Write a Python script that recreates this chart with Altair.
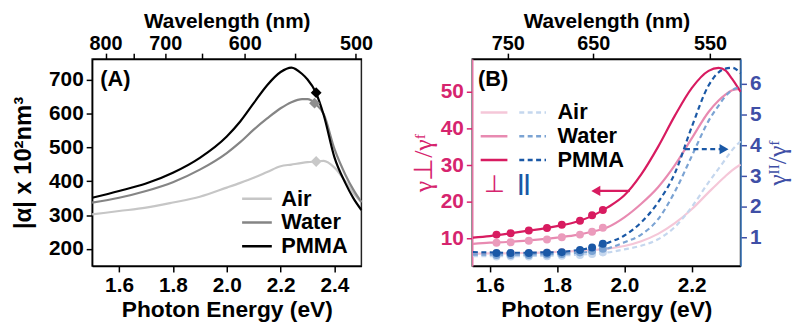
import altair as alt
import pandas as pd

FONT = "Liberation Sans"
HC = 1239.84  # eV*nm, photon energy <-> wavelength

media = ["Air", "Water", "PMMA"]
media_perp = ["Air ⊥", "Water ⊥", "PMMA ⊥"]

# ---------------- Panel A: |alpha| vs photon energy ----------------
energy_a = [1.50, 1.60, 1.70, 1.80, 1.90, 2.00, 2.05, 2.10, 2.15, 2.20, 2.24,
            2.28, 2.30, 2.33, 2.36, 2.40, 2.44, 2.47, 2.50]
alpha_air = [302, 312, 322, 337, 354, 381, 395, 410, 427, 444, 449,
             454, 456, 458, 460, 440, 400, 365, 338]
alpha_water = [337, 351, 371, 397, 434, 483, 515, 552, 585, 615, 633,
               642, 642, 628, 598, 495, 420, 375, 338]
alpha_pmma = [351, 371, 393, 425, 469, 532, 576, 630, 683, 722, 735,
              716, 700, 663, 595, 470, 395, 350, 315]
peak_energy = [2.332, 2.326, 2.332]
peak_alpha = [458, 630, 661]
wl_ticks_a = [800, 750, 700, 650, 600, 550, 500]
wl_labels_a = [800, 700, 600, 500]
energy_ticks_a = [1.6, 1.8, 2.0, 2.2, 2.4]
alpha_ticks = [200, 300, 400, 500, 600, 700]

# ---------------- Panel B: gamma ratios vs photon energy ----------------
energy_b = [1.55, 1.60, 1.65, 1.70, 1.75, 1.80, 1.85, 1.90, 1.95, 2.00,
            2.05, 2.10, 2.15, 2.20, 2.25, 2.28, 2.30, 2.32, 2.345]
perp_air = [5.9, 6.0, 6.0, 6.1, 6.2, 6.4, 6.6, 6.9, 7.3, 8.0,
            9.3, 11.3, 14.2, 18.0, 22.6, 25.3, 27.0, 28.6, 30.2]
perp_water = [8.6, 8.9, 9.1, 9.4, 9.8, 10.3, 10.9, 11.8, 13.1, 15.8,
              19.5, 24.0, 30.0, 37.3, 44.5, 47.6, 49.2, 50.4, 50.8]
perp_pmma = [10.3, 10.7, 11.3, 12.0, 12.6, 13.4, 14.4, 16.0, 18.5, 21.8,
             27.5, 35.0, 43.5, 51.0, 55.7, 56.5, 55.8, 53.5, 50.0]
par_air = [0.40, 0.40, 0.40, 0.40, 0.41, 0.42, 0.44, 0.47, 0.52, 0.62,
           0.74, 0.95, 1.35, 2.00, 2.80, 3.25, 3.55, 3.85, 4.14]
par_water = [0.45, 0.45, 0.45, 0.45, 0.46, 0.47, 0.50, 0.55, 0.65, 0.85,
             1.10, 1.60, 2.50, 3.65, 4.80, 5.30, 5.60, 5.80, 5.90]
par_pmma = [0.53, 0.52, 0.51, 0.51, 0.52, 0.53, 0.58, 0.67, 0.83, 1.07,
            1.50, 2.15, 3.10, 4.60, 5.95, 6.38, 6.50, 6.53, 6.35]

dot_energy = [1.620, 1.662, 1.716, 1.770, 1.814, 1.868, 1.904, 1.936]
perp_dot_air = [6.0, 6.0, 6.1, 6.2, 6.4, 6.6, 6.8, 7.1]
perp_dot_water = [8.9, 9.0, 9.4, 9.8, 10.4, 11.1, 11.9, 13.0]
perp_dot_pmma = [11.1, 11.5, 12.2, 12.9, 13.8, 14.9, 16.4, 17.8]
par_dot_air = [0.39, 0.39, 0.39, 0.40, 0.41, 0.44, 0.47, 0.52]
par_dot_water = [0.44, 0.44, 0.44, 0.45, 0.47, 0.52, 0.57, 0.64]
par_dot_pmma = [0.50, 0.50, 0.50, 0.51, 0.53, 0.60, 0.68, 0.80]

wl_ticks_b = [750, 650, 550]
energy_ticks_b = [1.6, 1.8, 2.0, 2.2]
perp_ticks = [10, 20, 30, 40, 50]
par_ticks = [1, 2, 3, 4, 5, 6]

# annotation arrows (data coordinates)
arrow_perp_x = [2.016, 1.915]
arrow_perp_y = 23.0
arrow_par_x = [2.180, 2.296]
arrow_par_y = 3.88

# colours
GRAYS = ["#c6c6c6", "#858585", "#000000"]
PINKS = ["#f5c7d8", "#e88ab1", "#d81b60"]
PINK_DOTS = ["#f5c7d8", "#eb9bbc", "#d81b60"]
BLUES = ["#c5d7ee", "#7ba3d3", "#1a58a6"]
PINK_LABEL, PINK_AXIS = "#d6246e", "#e576a5"
BLUE_LABEL, BLUE_AXIS = "#3f4fa6", "#3d7cc4"
LABEL_SIZE = 21


def long_df(energy, series, names):
    rows = []
    for m, vals in zip(names, series):
        for e, v in zip(energy, vals):
            rows.append({"E": e, "value": v, "medium": m})
    return pd.DataFrame(rows)


df_a = long_df(energy_a, [alpha_air, alpha_water, alpha_pmma], media)
df_peak = pd.DataFrame({"E": peak_energy, "value": peak_alpha, "medium": media})
df_perp = long_df(energy_b, [perp_air, perp_water, perp_pmma], media_perp)
df_par = long_df(energy_b, [par_air, par_water, par_pmma], media)
df_perp_dots = long_df(dot_energy, [perp_dot_air, perp_dot_water, perp_dot_pmma], media_perp)
df_par_dots = long_df(dot_energy, [par_dot_air, par_dot_water, par_dot_pmma], media)


def wl_expr(labels):
    lst = ",".join(str(v) for v in labels)
    return f"indexof([{lst}], round({HC}/datum.value)) >= 0 ? '' + round({HC}/datum.value) : ''"


def top_axis(ticks, labels):
    return alt.Axis(orient="top", values=[HC / w for w in ticks], labelExpr=wl_expr(labels),
                    title="Wavelength (nm)", titleFontSize=21, labelFontSize=20,
                    labelPadding=0, titlePadding=1.5)


def bottom_axis(ticks):
    return alt.Axis(orient="bottom", values=ticks, format=".1f", title="Photon Energy (eV)",
                    titleFontSize=23, labelPadding=3, titlePadding=3)


# ---------------- Panel A ----------------
xA = alt.Scale(domain=[1.5, 2.5], nice=False, zero=False)
yA = alt.Scale(domain=[150, 760], nice=False, zero=False)
AX_XA = bottom_axis(energy_ticks_a)
AX_YA = alt.Axis(values=alpha_ticks, title="|α| x 10²nm³", titleFontSize=24, titlePadding=13,
                 labelPadding=3)

legend_common = dict(symbolType="stroke", symbolStrokeWidth=2.5, clipHeight=22, rowPadding=2,
                     padding=0, labelFontSize=22, labelFont=FONT, labelFontWeight="bold",
                     labelColor="black")

lines_a = alt.Chart(df_a).mark_line(strokeWidth=2.2, interpolate="monotone").encode(
    x=alt.X("E:Q", scale=xA, axis=AX_XA),
    y=alt.Y("value:Q", scale=yA, axis=AX_YA),
    color=alt.Color("medium:N", sort=media, scale=alt.Scale(domain=media, range=GRAYS),
                    legend=alt.Legend(title=None, orient="none", legendX=150, legendY=130,
                                      symbolSize=900, labelOffset=8, **legend_common)),
)
diamonds_a = alt.Chart(df_peak).mark_point(shape="diamond", filled=True, size=120, opacity=1).encode(
    x=alt.X("E:Q", scale=xA, axis=AX_XA),
    y=alt.Y("value:Q", scale=yA, axis=AX_YA),
    fill=alt.Fill("medium:N", scale=alt.Scale(domain=media, range=["#c8c8c8", "#8f8f8f", "#000000"]),
                  legend=None),
)
label_a = alt.Chart(pd.DataFrame({"E": [1.530], "value": [682], "t": ["(A)"]})).mark_text(
    align="left", baseline="alphabetic", font=FONT, fontSize=22, fontWeight="bold", color="black"
).encode(x=alt.X("E:Q", scale=xA, axis=AX_XA), y=alt.Y("value:Q", scale=yA, axis=AX_YA), text="t:N")
base_a = alt.layer(lines_a, diamonds_a, label_a)
top_a = alt.Chart(df_a).mark_line(opacity=0).encode(
    x=alt.X("E:Q", scale=xA, axis=top_axis(wl_ticks_a, wl_labels_a)),
    y=alt.Y("value:Q", scale=yA, axis=AX_YA),
    detail="medium:N",
)
panel_a = alt.layer(base_a, top_a).resolve_axis(x="independent").properties(width=272, height=209)

# ---------------- Panel B ----------------
xB = alt.Scale(domain=[1.548, 2.345], nice=False, zero=False)
yBl = alt.Scale(domain=[2.56, 58.9], nice=False, zero=False)
yBr = alt.Scale(domain=[0.08, 6.81], nice=False, zero=False)
AX_XB = bottom_axis(energy_ticks_b)
AX_YBL = alt.Axis(orient="left", values=perp_ticks, title="γ⊥/γᶠ", labelColor=PINK_LABEL,
                  tickColor=PINK_LABEL, domainColor=PINK_AXIS, titleColor=PINK_LABEL,
                  titleFont="Liberation Serif", titleFontWeight="normal", titleFontSize=26,
                  titlePadding=4, labelPadding=3)
AX_YBR = alt.Axis(orient="right", values=par_ticks, title="γᴵᴵ/γᶠ", labelColor=BLUE_LABEL,
                  tickColor=BLUE_LABEL, domainColor=BLUE_AXIS, titleColor=BLUE_LABEL,
                  titleFont="Liberation Serif", titleFontWeight="normal", titleFontSize=26,
                  titleAngle=270, titleBaseline="top", titlePadding=4, labelPadding=3)

perp_lines = alt.Chart(df_perp).mark_line(strokeWidth=2.2, interpolate="monotone").encode(
    x=alt.X("E:Q", scale=xB, axis=AX_XB),
    y=alt.Y("value:Q", scale=yBl, axis=AX_YBL),
    stroke=alt.Stroke("medium:N", sort=media_perp, scale=alt.Scale(domain=media_perp, range=PINKS),
                      legend=alt.Legend(title="⊥", titleOrient="bottom", titleAnchor="middle",
                                        titleColor=PINK_LABEL, titleFontSize=24, titleFont=FONT,
                                        titleFontWeight="normal", titlePadding=2,
                                        orient="none", legendX=7, legendY=43, symbolSize=729,
                                        labelExpr="''", labelOffset=0, **legend_common)),
)
perp_dots = alt.Chart(df_perp_dots).mark_circle(size=65, opacity=1).encode(
    x=alt.X("E:Q", scale=xB, axis=AX_XB),
    y=alt.Y("value:Q", scale=yBl, axis=AX_YBL),
    fill=alt.Fill("medium:N", scale=alt.Scale(domain=media_perp, range=PINK_DOTS), legend=None),
)
perp_arrow = alt.Chart(pd.DataFrame({"E": [arrow_perp_x[0]], "E2": [arrow_perp_x[1]],
                                     "value": [arrow_perp_y]})).mark_rule(
    strokeWidth=2.2, color=PINKS[2]).encode(
    x=alt.X("E:Q", scale=xB, axis=AX_XB), x2="E2:Q", y=alt.Y("value:Q", scale=yBl, axis=AX_YBL))
perp_head = alt.Chart(pd.DataFrame({"E": [arrow_perp_x[1]], "value": [arrow_perp_y]})).mark_point(
    shape="triangle-left", filled=True, size=110, opacity=1, color=PINKS[2]).encode(
    x=alt.X("E:Q", scale=xB, axis=AX_XB), y=alt.Y("value:Q", scale=yBl, axis=AX_YBL))
label_b = alt.Chart(pd.DataFrame({"E": [1.565], "value": [51.7], "t": ["(B)"]})).mark_text(
    align="left", baseline="alphabetic", font=FONT, fontSize=22, fontWeight="bold", color="black"
).encode(x=alt.X("E:Q", scale=xB, axis=AX_XB), y=alt.Y("value:Q", scale=yBl, axis=AX_YBL),
         text="t:N")
pink_group = alt.layer(perp_lines, perp_dots, perp_arrow, perp_head, label_b)

par_lines = alt.Chart(df_par).mark_line(strokeWidth=2.2, strokeDash=[5, 3.5], interpolate="monotone").encode(
    x=alt.X("E:Q", scale=xB, axis=None),
    y=alt.Y("value:Q", scale=yBr, axis=AX_YBR),
    color=alt.Color("medium:N", sort=media, scale=alt.Scale(domain=media, range=BLUES),
                    legend=alt.Legend(title="\u00a0||", titleOrient="bottom", titleAnchor="start",
                                      titleColor=BLUES[2], titleFontSize=22, titleFont=FONT,
                                      titleFontWeight="bold", titlePadding=2,
                                      orient="none", legendX=46, legendY=43, symbolSize=729,
                                      symbolDash=[5, 3.5], labelOffset=10, **legend_common)),
)
par_dots = alt.Chart(df_par_dots).mark_circle(size=65, opacity=1).encode(
    x=alt.X("E:Q", scale=xB, axis=None),
    y=alt.Y("value:Q", scale=yBr, axis=AX_YBR),
    color=alt.Color("medium:N", sort=media, scale=alt.Scale(domain=media, range=BLUES), legend=None),
)
par_arrow = alt.Chart(pd.DataFrame({"E": [arrow_par_x[0]], "E2": [arrow_par_x[1]],
                                    "value": [arrow_par_y]})).mark_rule(
    strokeWidth=2.2, strokeDash=[5, 3.5], color=BLUES[2]).encode(
    x=alt.X("E:Q", scale=xB, axis=None), x2="E2:Q", y=alt.Y("value:Q", scale=yBr, axis=AX_YBR))
par_head = alt.Chart(pd.DataFrame({"E": [arrow_par_x[1]], "value": [arrow_par_y]})).mark_point(
    shape="triangle-right", filled=True, size=110, opacity=1, color=BLUES[2]).encode(
    x=alt.X("E:Q", scale=xB, axis=None), y=alt.Y("value:Q", scale=yBr, axis=AX_YBR))
blue_group = alt.layer(par_lines, par_dots, par_arrow, par_head)

top_b = alt.Chart(df_perp).mark_line(opacity=0).encode(
    x=alt.X("E:Q", scale=xB, axis=top_axis(wl_ticks_b, wl_ticks_b)),
    y=alt.Y("value:Q", scale=yBl, axis=None),
    detail="medium:N",
)
panel_b = alt.layer(pink_group, blue_group, top_b).resolve_scale(y="independent").resolve_axis(
    x="independent", y="independent").properties(width=271, height=209)

chart = alt.hconcat(panel_a, panel_b, spacing=36).resolve_scale(
    color="independent", fill="independent", stroke="independent"
).resolve_legend(color="independent", stroke="independent", fill="independent").properties(
    padding={"left": 3, "top": 0, "right": 0, "bottom": 0}
).configure(font=FONT).configure_axis(
    labelFont=FONT, labelFontSize=LABEL_SIZE, labelFontWeight="bold", labelColor="black",
    titleFont=FONT, titleFontSize=22, titleFontWeight="bold", titleColor="black",
    grid=False, tickSize=6, tickWidth=1.5, tickColor="black", domainWidth=1.5,
    domainColor="black", labelFlush=False, labelOverlap=False,
).configure_view(stroke="#222222", strokeWidth=1.5)

chart.save("out.html", embed_options={"renderer": "svg", "actions": False})
